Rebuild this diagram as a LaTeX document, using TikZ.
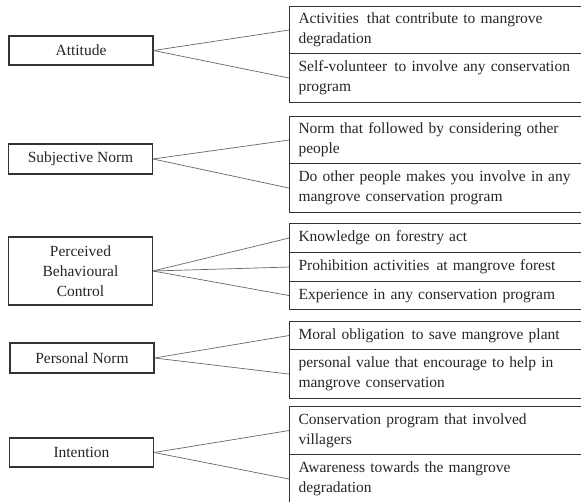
\documentclass[tikz,border=0pt]{standalone}
\usepackage{fontspec}
\setmainfont{Liberation Serif}
\begin{document}
\begin{tikzpicture}[x=1pt,y=-1pt,
  every node/.style={font=\fontsize{15.5}{20}\selectfont},
  leftbox/.style={draw=black!80, line width=1.1pt, minimum width=144pt, inner sep=0pt, align=center, text=black!85},
  rowbox/.style={draw=black!80, line width=1.1pt, anchor=north west, text width=330pt, inner xsep=9pt, inner ysep=0pt, align=left, text=black!85},
  link/.style={draw=black!60, line width=0.7pt}]
\useasboundingbox (0,0) rectangle (581,502);
\clip (0,0) rectangle (581,502);
% left boxes
\node[leftbox, minimum height=29pt] (att) at (81,50.5) {Attitude};
\node[leftbox, minimum height=30pt] (sn) at (80.5,159) {Subjective Norm};
\node[leftbox, minimum height=68pt] (pbc) at (80.5,271) {Perceived\\Behavioural\\Control};
\node[leftbox, minimum height=30pt] (pn) at (82,358) {Personal Norm};
\node[leftbox, minimum height=29pt] (int) at (81.5,452.5) {Intention};
% right rows
\node[rowbox, minimum height=47pt] (r11) at (289,6) {Activities\hspace{3pt} that contribute to mangrove\\degradation};
\node[rowbox, minimum height=49pt] (r12) at (289,53) {Self-volunteer\hspace{2pt} to involve any conservation\\program};
\node[rowbox, minimum height=47pt] (r21) at (289,116) {Norm that followed by considering other\\people};
\node[rowbox, minimum height=49pt] (r22) at (289,163) {Do other people makes you involve in any\\mangrove conservation program};
\node[rowbox, minimum height=29pt] (r31) at (289,223) {Knowledge on forestry act};
\node[rowbox, minimum height=29pt] (r32) at (289,252) {Prohibition activities\hspace{2pt} at mangrove forest};
\node[rowbox, minimum height=28pt] (r33) at (289,281) {Experience in any conservation program};
\node[rowbox, minimum height=28pt] (r41) at (289,321) {Moral obligation\hspace{2pt} to save mangrove plant};
\node[rowbox, minimum height=49pt] (r42) at (289,349) {personal value that encourage to help in\\mangrove conservation};
\node[rowbox, minimum height=48pt] (r51) at (289,406) {Conservation program that involved\\villagers};
\node[rowbox, minimum height=49pt] (r52) at (289,454) {Awareness towards the mangrove\\degradation};
% connectors
\draw[link] (att.east) -- (r11.west);
\draw[link] (att.east) -- (r12.west);
\draw[link] (sn.east) -- (r21.west);
\draw[link] (sn.east) -- (r22.west);
\draw[link] (pbc.east) -- (r31.west);
\draw[link] (pbc.east) -- (r32.west);
\draw[link] (pbc.east) -- (r33.west);
\draw[link] (pn.east) -- (r41.west);
\draw[link] (pn.east) -- (r42.west);
\draw[link] (int.east) -- (r51.west);
\draw[link] (int.east) -- (r52.west);
\end{tikzpicture}
\end{document}
